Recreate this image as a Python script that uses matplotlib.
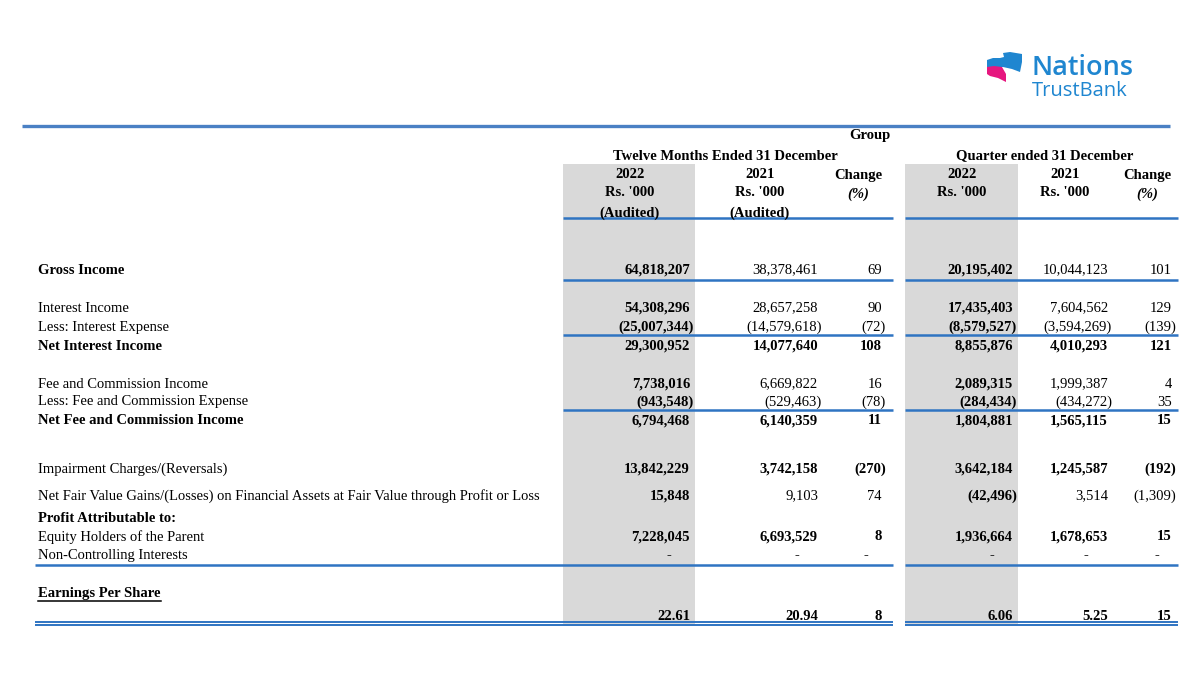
import matplotlib.pyplot as plt
from matplotlib.patches import Polygon, Rectangle

plt.rcParams['font.family'] = ['Liberation Serif', 'DejaVu Serif']

# ==============================================================================
# DATA
# ==============================================================================

row_labels = [
    'Gross Income',
    'Interest Income',
    'Less: Interest Expense',
    'Net Interest Income',
    'Fee and Commission Income',
    'Less: Fee and Commission Expense',
    'Net Fee and Commission Income',
    'Impairment Charges/(Reversals)',
    'Net Fair Value Gains/(Losses) on Financial Assets at Fair Value through Profit or Loss',
    'Profit Attributable to:',
    'Equity Holders of the Parent',
    'Non-Controlling Interests',
    'Earnings Per Share',
    '',
]

# twelve months 2022, 2021, change % | quarter 2022, 2021, change %
ytd_2022 = [64818207, 54308296, -25007344, 29300952, 7738016, -943548, 6794468,
            13842229, 15848, None, 7228045, 'dash', None, 22.61]
ytd_2021 = [38378461, 28657258, -14579618, 14077640, 6669822, -529463, 6140359,
            3742158, 9103, None, 6693529, 'dash', None, 20.94]
ytd_chg = [69, 90, -72, 108, 16, -78, 11, -270, 74, None, 8, 'dash', None, 8]
qtr_2022 = [20195402, 17435403, -8579527, 8855876, 2089315, -284434, 1804881,
            3642184, -42496, None, 1936664, 'dash', None, 6.06]
qtr_2021 = [10044123, 7604562, -3594269, 4010293, 1999387, -434272, 1565115,
            1245587, 3514, None, 1678653, 'dash', None, 5.25]
qtr_chg = [101, 129, -139, 121, 4, 35, 15, -192, -1309, None, 15, 'dash', None, 15]

columns = [ytd_2022, ytd_2021, ytd_chg, qtr_2022, qtr_2021, qtr_chg]

# ==============================================================================
# LAYOUT (pixel space, y grows downward)
# ==============================================================================

row_y = [269, 307, 326, 345, 383, 401, 420, 468, 495, 517, 536, 555, 592, 615]
label_bold = [1, 0, 0, 1, 0, 0, 1, 0, 0, 1, 0, 0, 1, 0]
B = [1, 1, 1, 1, 1, 1]
N = [1, 0, 0, 1, 0, 0]
value_bold = [N, N, N, B, N, N, B, B, N, B, B, B, B, B]
col_right = [690, 818, 882, 1013, 1108, 1172]
dash_off = [21, 21, 16, 21, 22, 15]

BLUE = '#2f74c2'
GREY = '#d9d9d9'
LOGO_BLUE = '#1f86d0'
FS = 10.5
BASE = 4.5   # baseline offset below row centre


def fmt(v):
    if v is None:
        return ''
    if v == 'dash':
        return '-'
    if isinstance(v, float):
        s = f'{abs(v):,.2f}'
    else:
        s = f'{abs(v):,}'
    return f'({s})' if v < 0 else s


def txt(x, y, s, ha='left', bold=False, **kw):
    return ax.text(x, y + BASE, s, ha=ha, va='baseline', fontsize=kw.pop('fontsize', FS),
                   fontweight='bold' if bold else 'normal', **kw)


fig = plt.figure(figsize=(12, 6.77), dpi=100)
ax = fig.add_axes([0, 0, 1, 1])
ax.set_xlim(0, 1200)
ax.set_ylim(677, 0)
ax.axis('off')

# grey highlight columns
for x0, x1 in [(563, 695), (905, 1018)]:
    ax.add_patch(Rectangle((x0, 164), x1 - x0, 461, color=GREY, lw=0, zorder=0))

# top rule
ax.plot([22, 1170], [126, 126], color='#4a80c4', lw=2.4, solid_capstyle='butt')

# header
txt(870, 135, 'Group', ha='center', bold=True)
txt(725, 155, 'Twelve Months Ended 31 December', ha='center', bold=True)
txt(1045, 155, 'Quarter ended 31 December', ha='center', bold=True)
for cx, yr, aud in [(630, '2022', True), (760, '2021', True), (962, '2022', False), (1065, '2021', False)]:
    txt(cx, 173, yr, ha='center', bold=True)
    txt(cx, 192, "Rs. '000", ha='center', bold=True)
    if aud:
        txt(cx, 212, '(Audited)', ha='center', bold=True)
for cx in [858, 1147]:
    txt(cx, 175, 'Change', ha='center', bold=True)
    txt(cx, 193, '(%)', ha='center', bold=True, style='italic')

# rules between sections
segs = [(563, 893), (905, 1178)]
for yy in [218, 280, 335, 410]:
    for x0, x1 in segs:
        ax.plot([x0, x1], [yy, yy], color=BLUE, lw=1.8, solid_capstyle='butt')
for x0, x1 in [(35, 893), (905, 1178)]:
    ax.plot([x0, x1], [565, 565], color=BLUE, lw=1.8, solid_capstyle='butt')
    ax.plot([x0, x1], [622, 622], color=BLUE, lw=1.4, solid_capstyle='butt')
    ax.plot([x0, x1], [625, 625], color=BLUE, lw=1.4, solid_capstyle='butt')

# rows
ept = None
for i, (lab, y) in enumerate(zip(row_labels, row_y)):
    t = txt(38, y, lab, bold=label_bold[i])
    if lab == 'Earnings Per Share':
        ept = t
    for j, col in enumerate(columns):
        s = fmt(col[i])
        if not s:
            continue
        b = value_bold[i][j]
        if s == '-':
            txt(col_right[j] - dash_off[j], y, s, ha='center', bold=b)
            continue
        x = col_right[j] + (4 if s.startswith('(') else 0)
        txt(x, y, s, ha='right', bold=b)

# underline "Earnings Per Share"
fig.canvas.draw()
bb = ept.get_window_extent().transformed(ax.transData.inverted())
ax.plot([bb.x0, bb.x1], [600.5, 600.5], color='black', lw=1.1)

# logo
ax.add_patch(Polygon([[987, 60], [993, 58], [1000, 58], [1004, 57], [1003, 53],
                      [1010, 52], [1022, 54], [1022, 62], [1020, 72],
                      [1012, 69], [1003, 67], [994, 67], [987, 68]],
                     closed=True, color=LOGO_BLUE, lw=0))
ax.add_patch(Polygon([[987, 67], [994, 66], [1002, 67], [1006, 74], [1006, 82],
                      [998, 78], [990, 76], [987, 74]],
                     closed=True, color='#e6177f', lw=0))
ax.text(1031, 75, 'Nations', ha='left', va='baseline', fontsize=19.5,
        color=LOGO_BLUE, family='Open Sans', fontweight='semibold')
ax.text(1032, 96, 'TrustBank', ha='left', va='baseline', fontsize=14.5,
        color=LOGO_BLUE, family='Open Sans', fontweight='medium')

plt.savefig('out.png', dpi=100)
plt.close()
